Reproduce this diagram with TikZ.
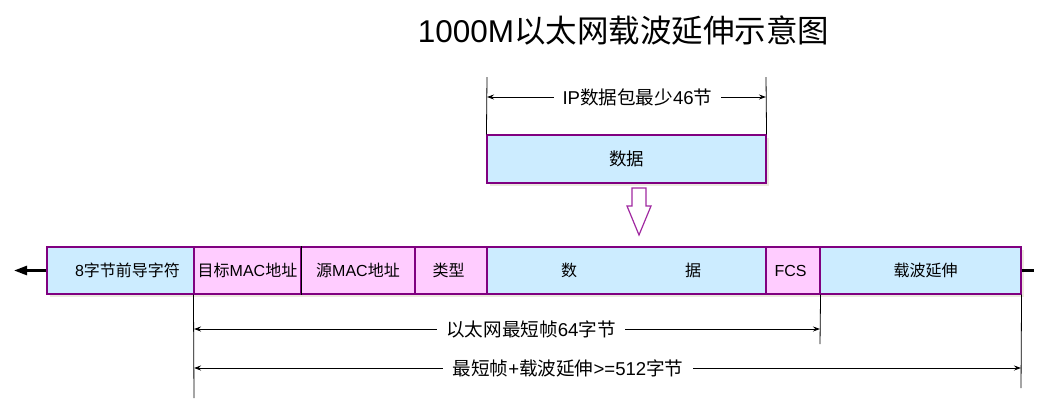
\documentclass[tikz,border=0pt]{standalone}
\usepackage{fontspec}
\setmainfont{Liberation Sans}
\newfontfamily\cjk{Noto Sans CJK SC}
\usetikzlibrary{arrows.meta,shadows}
\definecolor{lblue}{RGB}{204,236,255}
\definecolor{lpink}{RGB}{255,204,255}
\definecolor{bord}{RGB}{128,0,128}
\definecolor{shad}{RGB}{236,233,222}
\definecolor{harrow}{RGB}{160,40,160}
\tikzset{
  fbox/.style={draw=bord, line width=1.1pt, minimum height=47pt, inner sep=0pt,
    font=\fontsize{16}{16}\selectfont,
    drop shadow={shadow xshift=3pt, shadow yshift=-3pt, fill=shad, opacity=1}},
  bluebox/.style={fbox, fill=lblue},
  pinkbox/.style={fbox, fill=lpink},
  extline/.style={draw=black, line width=0.8pt},
  dimarrow/.style={draw=black, line width=0.9pt, {Stealth[length=7pt,width=5pt,inset=2.5pt]}-{Stealth[length=7pt,width=5pt,inset=2.5pt]}},
  dimlabel/.style={fill=white, inner xsep=9pt, inner ysep=2pt, font=\fontsize{18.6}{18.6}\selectfont},
  busline/.style={draw=black, line width=2.6pt},
  titletext/.style={font=\fontsize{31.5}{31.5}\selectfont, inner sep=0pt},
  hollow/.style={draw=harrow, line width=1.2pt, fill=white, line join=miter}
}
\begin{document}
\begin{tikzpicture}[x=1pt,y=-1pt]
\useasboundingbox (0,0) rectangle (1038,400);
% title
\node[titletext] (title) at (623.5,30) {1000M{\cjk 以太网载波延伸示意图}};
% IP data box
\node[bluebox, minimum width=279pt, minimum height=48pt, font=\fontsize{17.5}{17.5}\selectfont] (ipdata) at (626.5,159) {{\cjk 数据}};
\coordinate (ipTL) at (487,77);
\coordinate (ipTR) at (766,77);
\draw[extline] (ipTL) -- (ipdata.north west);
\draw[extline] (ipTR) -- (ipdata.north east);
\coordinate (ipA) at (487,97);
\coordinate (ipB) at (766,97);
\draw[dimarrow] (ipA) -- (ipB);
\node[dimlabel] (iplab) at (637.5,97) {IP{\cjk 数据包最少}46{\cjk 节}};
% hollow arrow
\draw[hollow] (632,188) -- (646,188) -- (646,206) -- (651,206) -- (639,235) -- (627,206) -- (632,206) -- cycle;
% frame row
\node[bluebox, minimum width=147pt] (pre) at (120.5,270.5) {\hspace*{14pt}8{\cjk 字节前导字符}};
\node[pinkbox, minimum width=107pt] (dst) at (247.5,270.5) {{\cjk 目标}MAC{\cjk 地址}};
\node[pinkbox, minimum width=114pt] (src) at (358,270.5) {{\cjk 源}MAC{\cjk 地址}};
\node[pinkbox, minimum width=72pt] (typ) at (451,270.5) {{\cjk 类型}\hspace*{5pt}};
\node[bluebox, minimum width=279pt] (dat) at (626.5,270.5) {\hspace*{9pt}{\cjk 数}\hspace{108pt}{\cjk 据}};
\node[pinkbox, minimum width=54pt] (fcs) at (793,270.5) {FCS\hspace*{5pt}};
\node[bluebox, minimum width=201pt] (ext) at (920.5,270.5) {\hspace*{10pt}{\cjk 载波延伸}};
\draw[black, line width=1.1pt] (dst.north east) -- (dst.south east);
% bus lines
\coordinate (busL) at (14,270.5);
\coordinate (busR) at (1034,270.5);
\draw[busline, -{Triangle[length=13pt,width=9pt]}] (pre.west) -- (busL);
\draw[busline] (ext.east) -- (busR);
% extension lines below
\coordinate (e1) at (194,398);
\coordinate (e2) at (820,344);
\coordinate (e3) at (1021,388);
\draw[extline] (dst.south west) -- (e1);
\draw[extline] (fcs.south east) -- (e2);
\draw[extline] (ext.south east) -- (e3);
% dimension 1
\coordinate (d1a) at (194,329);
\coordinate (d1b) at (820,329);
\draw[dimarrow] (d1a) -- (d1b);
\node[dimlabel] (d1lab) at (531,329) {{\cjk 以太网最短帧}64{\cjk 字节}};
% dimension 2
\coordinate (d2a) at (194,368);
\coordinate (d2b) at (1021,368);
\draw[dimarrow] (d2a) -- (d2b);
\node[dimlabel] (d2lab) at (568,368) {{\cjk 最短帧}+{\cjk 载波延伸}>=512{\cjk 字节}};
\end{tikzpicture}
\end{document}
